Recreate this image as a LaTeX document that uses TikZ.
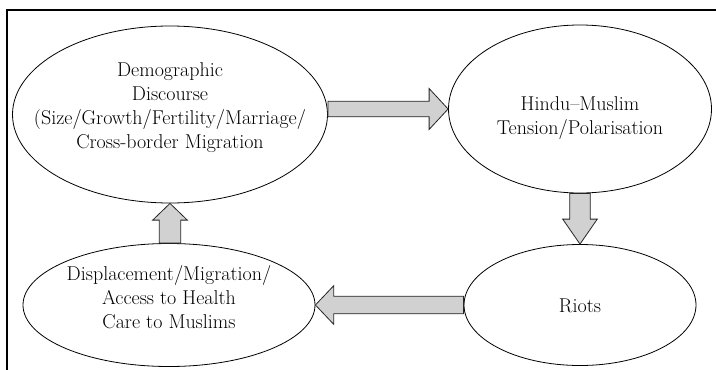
\documentclass[tikz,border=0pt]{standalone}
\usepackage{fontspec}
\usetikzlibrary{calc,shapes.geometric}

\begin{document}
\begin{tikzpicture}[x=1pt,y=-1pt,
        bubble/.style={draw,ellipse,inner sep=0pt,line width=0.8pt},
        words/.style={align=center,inner sep=0pt,font=\fontsize{20}{24}\selectfont\addfontfeatures{FakeStretch=1.18}},
        fatarrow/.style={draw=black!85,fill=black!18,line width=0.8pt,line join=miter}]
    \useasboundingbox (0,0) rectangle (716,370);
    \draw[line width=1.2pt] (716,10) -- (7,10) -- (7,370);
    \node[bubble,minimum width=315pt,minimum height=177pt] (dem) at (170,114.5) {};
    \node[bubble,minimum width=263pt,minimum height=168pt] (hin) at (580,109) {};
    \node[bubble,minimum width=232pt,minimum height=121pt] (rio) at (580,305) {};
    \node[bubble,minimum width=292pt,minimum height=123pt] (dis) at (169,305) {};
    \node[words] (demtext) at (170,108) {Demographic\\Discourse\\(Size/Growth/Fertility/Marriage/\\Cross-border Migration};
    \node[words] (hintext) at (580,118) {Hindu--Muslim\\Tension/Polarisation};
    \node[words] (riotext) at (580,306) {Riots};
    \node[words] (distext) at (169,297) {Displacement/Migration/\\Access to Health\\Care to Muslims};
    \coordinate (tail) at (dem.east |- hin.west);
    \coordinate (foot) at (dis.north -| dem.south);
    \foreach \src/\dst/\sw/\hw/\hl in {tail/hin.west/7.8/20.5/19,
                                      hin.south/rio.north/10.3/17.3/25,
                                      rio.west/dis.east/8.8/19.3/18.3,
                                      foot/dem.south/10.7/17.3/16.7}{
        \coordinate (base) at ($(\dst)!\hl pt!(\src)$);
        \draw[fatarrow] ($(\src)!\sw pt!90:(\dst)$) -- ($(base)!\sw pt!-90:(\src)$)
            -- ($(base)!\hw pt!-90:(\src)$) -- (\dst) -- ($(base)!\hw pt!90:(\src)$)
            -- ($(base)!\sw pt!90:(\src)$) -- ($(\src)!\sw pt!-90:(\dst)$) -- cycle;
    }
\end{tikzpicture}
\end{document}
